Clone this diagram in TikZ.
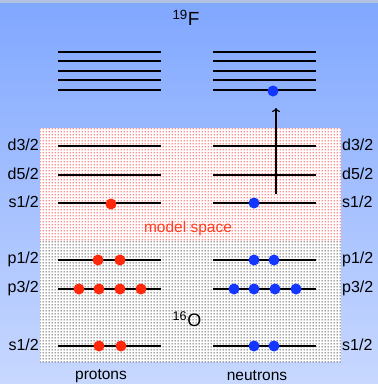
\documentclass[tikz,border=0pt]{standalone}
\usepackage{fontspec}
\setmainfont{Liberation Sans}
\usetikzlibrary{patterns,arrows.meta}

\definecolor{skytop}{RGB}{128,167,255}
\definecolor{skybot}{RGB}{200,216,255}
\definecolor{pcol}{RGB}{255,40,10}
\definecolor{ncol}{RGB}{20,55,255}

\pgfdeclarepatternformonly{coarsedots}{\pgfpointorigin}{\pgfpoint{3pt}{3pt}}{\pgfpoint{3pt}{3pt}}{%
  \pgfpathcircle{\pgfpoint{1.5pt}{1.5pt}}{0.72pt}\pgfusepath{fill}}
\pgfdeclarepatternformonly{finedots}{\pgfpointorigin}{\pgfpoint{2.6pt}{2.6pt}}{\pgfpoint{2.6pt}{2.6pt}}{%
  \pgfpathcircle{\pgfpoint{1.3pt}{1.3pt}}{0.72pt}\pgfusepath{fill}}

\tikzset{
  level/.style={line width=1.4pt},
  proton/.style={circle,fill=pcol,inner sep=0pt,minimum size=11pt},
  neutron/.style={circle,fill=ncol,inner sep=0pt,minimum size=11pt},
  orbit/.style={font=\fontsize{16}{18}\selectfont,inner sep=1pt},
  caption/.style={font=\fontsize{15.5}{17}\selectfont},
}

\begin{document}
\begin{tikzpicture}[x=1pt,y=-1pt]
\useasboundingbox (0,0) rectangle (378,384);
\shade[top color=skytop,bottom color=skybot] (0,0) rectangle (378,384);
\fill[skytop!60!gray!60!white] (0,0) rectangle (378,3);

% boxes: model space and 16O core
\fill[white] (40,128) rectangle (341,362);
\fill[pattern=finedots,pattern color=red!90] (40,128) rectangle (341,240);
\fill[pattern=coarsedots,pattern color=black] (40,240) rectangle (341,362);

% 19F levels
\foreach \y in {52,61,71,80,90}{
  \draw[level] (58,\y) -- (161,\y);
  \draw[level] (213,\y) -- (316,\y);
}
% sd and p shells
\foreach \y/\n/\lab in {146/dtr/{d3/2},175/dfv/{d5/2},203/sup/{s1/2},
                        260/pon/{p1/2},289/pth/{p3/2},346/slo/{s1/2}}{
  \draw[level] (58,\y) -- (161,\y);
  \draw[level] (213,\y) -- (316,\y);
  \node[orbit,anchor=east] (l\n) at (40,\y-1) {\lab};
  \node[orbit,anchor=west] (r\n) at (341,\y-1) {\lab};
}

\node[font=\fontsize{19}{21}\selectfont] (fl) at (186,18) {\textsuperscript{19}F};
\node[font=\fontsize{18}{20}\selectfont] (ox) at (187,319) {\textsuperscript{16}O};
\node[caption,text=pcol!90] (ms) at (188,228) {model space};
\node[caption] (prot) at (101,376) {protons};
\node[caption] (neut) at (257,376) {neutrons};

% occupied orbits
\node[proton] (pa) at (111,204) {};
\node[neutron] (na) at (254,203) {};
\node[neutron] (nf) at (273,91) {};
\foreach \x [count=\i] in {98,120}{
  \node[proton] (pp\i) at (\x,260) {};
  \node[proton] (ps\i) at (\x+1,346) {};
}
\foreach \x [count=\i] in {254,274}{
  \node[neutron] (np\i) at (\x,260) {};
  \node[neutron] (ns\i) at (\x,346) {};
}
\foreach \x [count=\i] in {79,99,120,141}{
  \node[proton] (pt\i) at (\x,289) {};
  \node[neutron] (nt\i) at (\x+155,289) {};
}

% excitation
\coordinate (jumpfrom) at (276,194);
\coordinate (jumpto) at (276,108);
\draw[line width=1.2pt,-{To[length=4pt,width=8pt]}] (jumpfrom) -- (jumpto);
\end{tikzpicture}
\end{document}
